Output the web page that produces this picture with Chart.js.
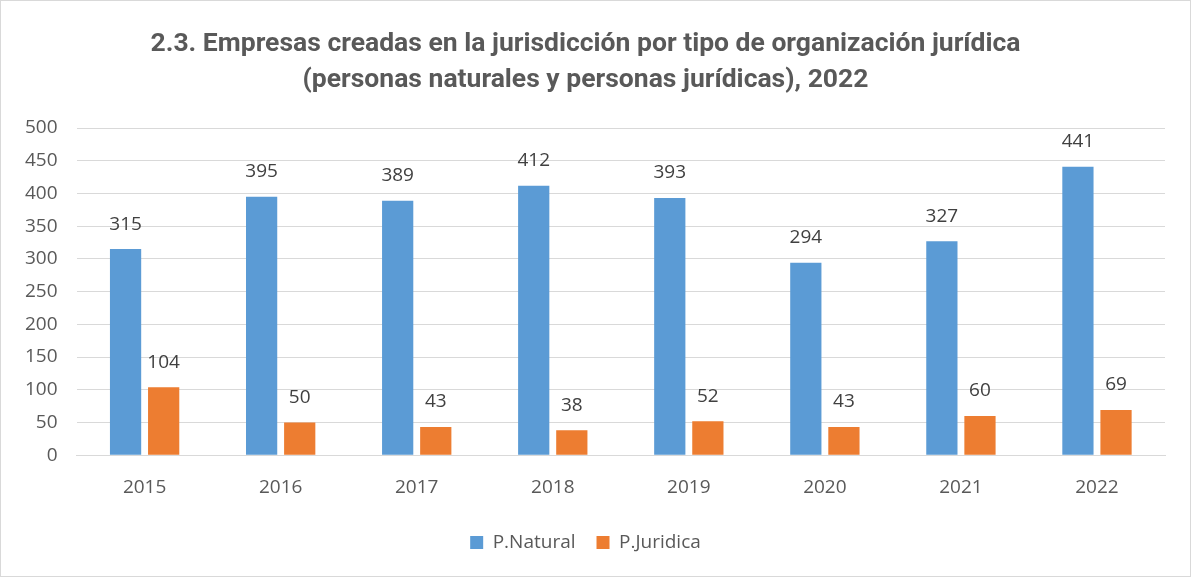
<!DOCTYPE html>
<html>
<head>
<meta charset="utf-8">
<script src="https://cdn.jsdelivr.net/npm/chart.js@4/dist/chart.umd.min.js"></script>
<style>
  html, body { margin: 0; padding: 0; background: #fff; }
  #wrap { width: 1191px; height: 577px; position: relative; box-sizing: border-box; border: 1px solid #d9d9d9; }
  canvas { display: block; }
</style>
</head>
<body>
<div id="wrap"><canvas id="myBarChart"></canvas></div>
<script>
var years = ["2015","2016","2017","2018","2019","2020","2021","2022"];
var natural = [315, 395, 389, 412, 393, 294, 327, 441];
var juridica = [104, 50, 43, 38, 52, 43, 60, 69];
var yTicks = [0, 50, 100, 150, 200, 250, 300, 350, 400, 450, 500];

// draws the value above each bar
var valueLabels = {
  id: 'valueLabels',
  afterDatasetsDraw: function (chart) {
    var ctx = chart.ctx;
    ctx.save();
    ctx.font = '19px "Open Sans", sans-serif';
    ctx.fillStyle = '#404040';
    ctx.textAlign = 'center';
    ctx.textBaseline = 'middle';
    chart.data.datasets.forEach(function (ds, i) {
      chart.getDatasetMeta(i).data.forEach(function (bar, j) {
        ctx.fillText(ds.data[j], bar.x, bar.y - 25);
      });
    });
    ctx.restore();
  }
};

var ctx = document.getElementById("myBarChart").getContext('2d');
var myBarChart = new Chart(ctx, {
  type: 'bar',
  data: {
    labels: years,
    datasets: [{
      label: 'P.Natural',
      data: natural,
      backgroundColor: '#5b9bd5'
    }, {
      label: 'P.Juridica',
      data: juridica,
      backgroundColor: '#ed7d31'
    }]
  },
  options: {
    responsive: true,
    maintainAspectRatio: false,
    animation: false,
    categoryPercentage: 0.56,
    barPercentage: 0.82,
    layout: { padding: { left: 5, right: 25, top: 10, bottom: 14 } },
    plugins: {
      title: {
        display: true,
        text: ["2.3. Empresas creadas en la jurisdicción por tipo de organización jurídica",
               "(personas naturales y personas jurídicas), 2022"],
        color: '#595959',
        font: { family: 'Roboto', size: 26.5, weight: 'bold', lineHeight: 1.36 },
        padding: { top: 15, bottom: 30 }
      },
      legend: {
        position: 'bottom',
        labels: {
          color: '#595959',
          font: { family: '"Open Sans"', size: 19 },
          boxWidth: 13,
          boxHeight: 13,
          padding: 21
        }
      },
      tooltip: { enabled: false }
    },
    scales: {
      x: {
        grid: { display: false },
        border: { color: '#d9d9d9' },
        ticks: { color: '#595959', font: { family: '"Open Sans"', size: 19 }, padding: 13 }
      },
      y: {
        min: 0,
        max: 500,
        afterBuildTicks: function (axis) {
          axis.ticks = yTicks.map(function (v) { return { value: v }; });
        },
        grid: { color: '#d9d9d9', drawTicks: false },
        border: { display: false },
        ticks: { color: '#595959', font: { family: '"Open Sans"', size: 19 }, padding: 19 }
      }
    }
  },
  plugins: [valueLabels]
});
</script>
</body>
</html>
